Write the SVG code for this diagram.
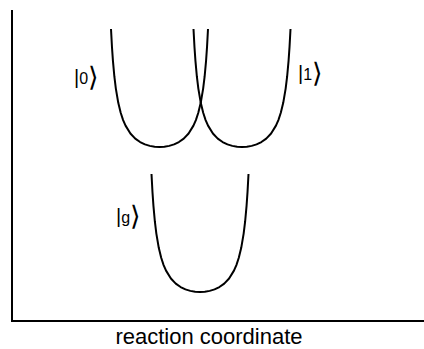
<svg xmlns="http://www.w3.org/2000/svg" xmlns:xlink="http://www.w3.org/1999/xlink" width="424" height="349" viewBox="0 0 424 349">
<style>
.curve{fill:none;stroke:#000;stroke-width:2;stroke-linejoin:round;stroke-linecap:butt}
.axis{fill:none;stroke:#000;stroke-width:2}
.lbl{font-family:"Liberation Sans","DejaVu Sans",sans-serif;font-size:16px;fill:#000}
.bar{font-size:20px}
.br{font-family:"DejaVu Sans",sans-serif;font-size:27px}
.ax{font-family:"Liberation Sans",Arial,sans-serif;font-size:22px;fill:#000}
</style>
<defs>
<path id="well" d="M-48.5,-118 L-47.53,-100.06 L-46.56,-86.14 L-45.11,-70.27 L-43.65,-58.42 L-41.23,-44.19 L-38.8,-34.24 L-36.38,-26.93 L-33.95,-21.36 L-29.1,-13.52 L-24.25,-8.4 L-19.4,-4.95 L-14.55,-2.62 L-9.7,-1.12 L-4.85,-0.27 L0,0 L4.85,-0.27 L9.7,-1.12 L14.55,-2.62 L19.4,-4.95 L24.25,-8.4 L29.1,-13.52 L33.95,-21.36 L36.38,-26.93 L38.8,-34.24 L41.23,-44.19 L43.65,-58.42 L45.11,-70.27 L46.56,-86.14 L47.53,-100.06 L48.5,-118"/>
</defs>
<g id="axes">
<path class="axis" d="M12,10 L12,321 L424,321"/>
<text class="ax" x="209" y="344" text-anchor="middle">reaction coordinate</text>
</g>
<g id="state0">
<use xlink:href="#well" href="#well" class="curve" transform="translate(159.5,147)"/>
<text class="lbl" x="74" y="84"><tspan class="bar">|</tspan>0<tspan class="br" dy="2">⟩</tspan></text>
</g>
<g id="state1">
<use xlink:href="#well" href="#well" class="curve" transform="translate(242,147)"/>
<text class="lbl" x="298" y="80"><tspan class="bar">|</tspan>1<tspan class="br" dy="2">⟩</tspan></text>
</g>
<g id="stateg">
<use xlink:href="#well" href="#well" class="curve" transform="translate(200,292)"/>
<text class="lbl" x="116" y="223"><tspan class="bar">|</tspan>g<tspan class="br" dy="2">⟩</tspan></text>
</g>
</svg>
